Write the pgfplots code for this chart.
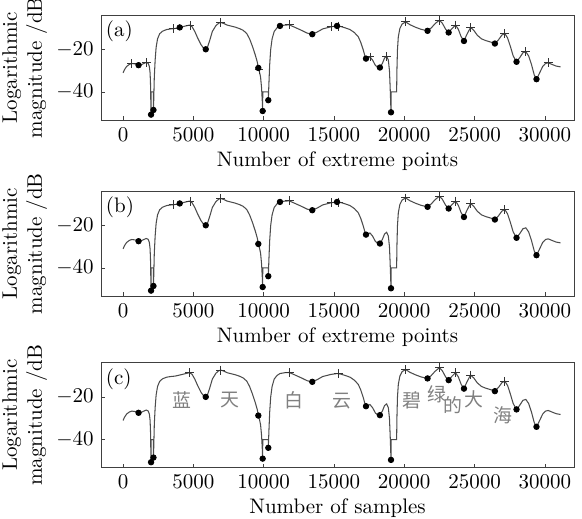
\documentclass[border=0pt]{standalone}
\usepackage{pgfplots}
\usepackage{pgfplotstable}
\pgfplotsset{compat=1.18}
\usepackage{fontspec}
\newfontfamily\cjk{Noto Sans CJK SC}

% spectrum curve (same in all panels)
\pgfplotstableread{
x y
0 -31.0
100 -29.5
250 -28
450 -27
620 -26.6
850 -26.8
1100 -27.4
1350 -27
1640 -26.1
1780 -26.5
1870 -28
1920 -31
1950 -36
1970 -44
1985 -50.7
1990 -40
2150 -40
2160 -48.5
2180 -44
2220 -33
2280 -25
2350 -19
2450 -15
2600 -12.6
2800 -11.4
3100 -10.6
3400 -10.3
3700 -10.1
4030 -9.6
4400 -9.0
4720 -8.5
4900 -9.2
5100 -11.5
5300 -14.5
5550 -17.8
5750 -19.6
5880 -19.9
6000 -19
6150 -16
6350 -11.5
6600 -8.8
6800 -7.6
6950 -7.3
7150 -7.7
7400 -8.5
7700 -9.0
8000 -9.5
8300 -10.2
8550 -11
8800 -12.5
9000 -15
9200 -18.5
9400 -22.5
9550 -26
9620 -28.7
9700 -30.5
9780 -33
9850 -38
9900 -44
9930 -49
9935 -40
10330 -40
10330 -43.9
10380 -35
10430 -27
10500 -20
10600 -15
10750 -11.5
10950 -9.8
11160 -8.9
11500 -8.5
11820 -8.4
12200 -9.5
12700 -11
13100 -12.3
13460 -12.8
13800 -11.8
14200 -10.3
14790 -9.3
15220 -8.9
15500 -9.2
15800 -9.8
16140 -10.6
16450 -12
16730 -14
16900 -16.5
17090 -20.3
17200 -23
17280 -24.3
17420 -24
17560 -23.5
17750 -25
17950 -27.5
18100 -28.3
18270 -28.5
18450 -26.5
18600 -24
18750 -23.2
18870 -25
18950 -30
19000 -38
19060 -49.6
19065 -40
19460 -40
19480 -30
19520 -20
19580 -14
19690 -10.1
19850 -8
20100 -7
20400 -8.3
20800 -9.5
21200 -10.5
21660 -11.2
21900 -10
22200 -7.8
22500 -6.2
22700 -7.5
22950 -10.5
23160 -12
23350 -10.5
23650 -8.5
23850 -10.5
24050 -14
24250 -16
24450 -13
24720 -9.6
24950 -11
25200 -13.3
25500 -15
25800 -15.8
26150 -16.5
26450 -17.2
26700 -15.5
26950 -13.2
27160 -12.5
27350 -14.5
27550 -18.5
27750 -23
27990 -25.8
28200 -24
28450 -21.5
28650 -21.1
28850 -23
29050 -27
29250 -32
29410 -34
29600 -31.5
29850 -28
30050 -26.6
30240 -26.3
30500 -27
30800 -27.8
31120 -28.2
}\curve

% panel (a) markers
\pgfplotstableread{
x y
620 -26.6
1640 -26.1
3580 -10.1
4760 -8.6
6950 -7.3
9670 -29.3
11820 -8.4
14790 -9.3
15350 -9.0
17560 -23.5
18750 -23.2
20100 -7
22500 -6.2
23650 -8.5
24720 -9.6
27160 -12.5
28650 -21.1
30240 -26.3
}\maxA
\pgfplotstableread{
x y
1100 -27.4
1990 -50.7
2160 -48.5
4030 -9.6
5880 -19.9
9620 -28.7
9930 -49
10330 -43.9
11160 -8.9
13460 -12.8
15220 -8.9
17280 -24.3
18270 -28.5
19060 -49.6
21660 -11.2
23160 -12
24250 -16
26450 -17.2
27990 -25.8
29410 -34
}\minA

% panel (b) markers
\pgfplotstableread{
x y
3580 -10.1
4760 -8.6
6950 -7.3
11820 -8.4
14790 -9.3
15350 -9.0
20100 -7
22500 -6.2
23650 -8.5
24720 -9.6
27160 -12.5
}\maxB

% panel (c) markers
\pgfplotstableread{
x y
4720 -8.5
6950 -7.3
11820 -8.4
15350 -9.0
20100 -7
22500 -6.2
23650 -8.5
24720 -9.6
27160 -12.5
}\maxC
\pgfplotstableread{
x y
1100 -27.4
1990 -50.7
2160 -48.5
5880 -19.9
9620 -28.7
9930 -49
10330 -43.9
13460 -12.8
17280 -24.3
18270 -28.5
19060 -49.6
21660 -11.2
23160 -12
24250 -16
26450 -17.2
27990 -25.8
29410 -34
}\minC

\pgfplotsset{
  panel/.style={
    width=225.2pt, height=50pt, scale only axis,
    xmin=-1570, xmax=32080, ymin=-53.3, ymax=-3.8,
    xtick={0,5000,...,30000}, ytick={-40,-20},
    scaled x ticks=false,
    xticklabel style={/pgf/number format/1000 sep={}},
    tick align=inside, tick pos=left,
    major tick length=2pt,
    axis line style={black!75}, tick style={black!75},
    ylabel={Logarithmic\\magnitude /dB},
    ylabel style={align=center, at={(axis description cs:-0.098,0.5)}, anchor=south},
    xlabel style={yshift=2pt},
  },
  crv/.style={black!70, line width=0.5pt, no marks},
  pmax/.style={only marks, mark=+, mark size=2.1pt, black!80, mark options={line width=0.4pt}},
  pmin/.style={only marks, mark=*, mark size=1.3pt, black},
}

\begin{document}
\begin{tikzpicture}
\path[use as bounding box] (-48.1pt,-23.95pt) rectangle (229pt,222.7pt);

\begin{axis}[panel, at={(0,165.5pt)}, xlabel={Number of extreme points}]
  \addplot[crv] table {\curve};
  \addplot[pmax] table {\maxA};
  \addplot[pmin] table {\minA};
  \node[anchor=north west, inner sep=1pt] at (rel axis cs:0.005,0.97) {(a)};
\end{axis}

\begin{axis}[panel, at={(0,81.7pt)}, xlabel={Number of extreme points}]
  \addplot[crv] table {\curve};
  \addplot[pmax] table {\maxB};
  \addplot[pmin] table {\minA};
  \node[anchor=north west, inner sep=1pt] at (rel axis cs:0.005,0.97) {(b)};
\end{axis}

\begin{axis}[panel, at={(0,0)}, xlabel={Number of samples}]
  \addplot[crv] table {\curve};
  \addplot[pmax] table {\maxC};
  \addplot[pmin] table {\minC};
  \node[anchor=north west, inner sep=1pt] at (rel axis cs:0.005,0.97) {(c)};
  \begin{scope}[every node/.style={text=black!50, font=\cjk\fontsize{9}{10}\selectfont, inner sep=0pt}]
    \node at (axis cs:4170,-21.3) {蓝};
    \node at (axis cs:7610,-21.3) {天};
    \node at (axis cs:12180,-21.3) {白};
    \node at (axis cs:15550,-22) {云};
    \node at (axis cs:20530,-21.3) {碧};
    \node at (axis cs:22300,-18.8) {绿};
    \node at (axis cs:23450,-23.9) {的};
    \node at (axis cs:24980,-21) {大};
    \node at (axis cs:27040,-28.4) {海};
  \end{scope}
\end{axis}
\end{tikzpicture}
\end{document}
